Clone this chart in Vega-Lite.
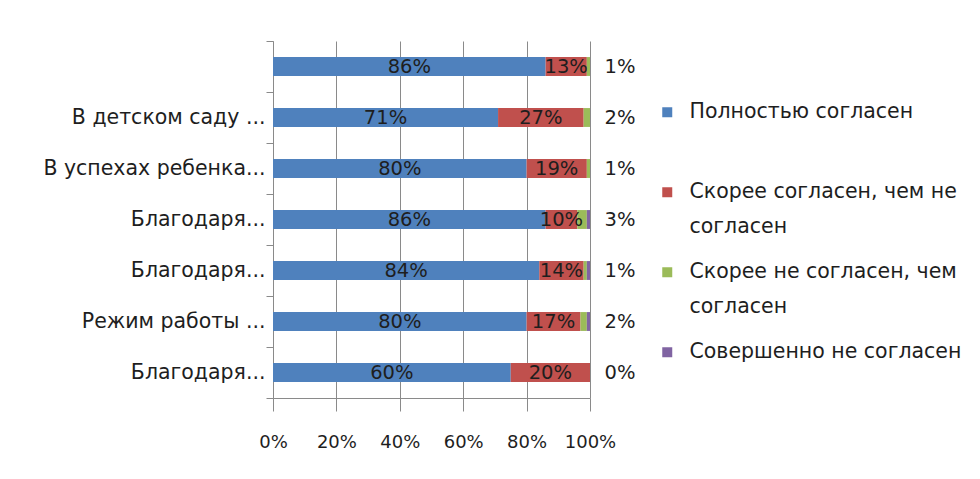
{
  "$schema": "https://vega.github.io/schema/vega-lite/v6.json",
  "width": 317,
  "height": 357,
  "autosize": "none",
  "padding": {"left": 273, "top": 41, "right": 390, "bottom": 81},
  "background": "white",
  "config": {
    "view": {"stroke": null},
    "font": "DejaVu Sans",
    "style": {"guide-label": {"lineHeight": 35}}
  },
  "data": {
    "values": [
      {"cat": "c1", "series": "Полностью согласен", "k": 1, "value": 0.86, "side": "in"},
      {"cat": "c1", "series": "Скорее согласен, чем не согласен", "k": 2, "value": 0.13, "side": "in"},
      {"cat": "c1", "series": "Скорее не согласен, чем согласен", "k": 3, "value": 0.01, "side": "out"},
      {"cat": "c1", "series": "Совершенно не согласен", "k": 4, "value": 0.0, "side": "none"},
      {"cat": "c2", "series": "Полностью согласен", "k": 1, "value": 0.71, "side": "in"},
      {"cat": "c2", "series": "Скорее согласен, чем не согласен", "k": 2, "value": 0.27, "side": "in"},
      {"cat": "c2", "series": "Скорее не согласен, чем согласен", "k": 3, "value": 0.02, "side": "out"},
      {"cat": "c2", "series": "Совершенно не согласен", "k": 4, "value": 0.0, "side": "none"},
      {"cat": "c3", "series": "Полностью согласен", "k": 1, "value": 0.80, "side": "in"},
      {"cat": "c3", "series": "Скорее согласен, чем не согласен", "k": 2, "value": 0.19, "side": "in"},
      {"cat": "c3", "series": "Скорее не согласен, чем согласен", "k": 3, "value": 0.01, "side": "out"},
      {"cat": "c3", "series": "Совершенно не согласен", "k": 4, "value": 0.0, "side": "none"},
      {"cat": "c4", "series": "Полностью согласен", "k": 1, "value": 0.86, "side": "in"},
      {"cat": "c4", "series": "Скорее согласен, чем не согласен", "k": 2, "value": 0.10, "side": "in"},
      {"cat": "c4", "series": "Скорее не согласен, чем согласен", "k": 3, "value": 0.03, "side": "out"},
      {"cat": "c4", "series": "Совершенно не согласен", "k": 4, "value": 0.01, "side": "none"},
      {"cat": "c5", "series": "Полностью согласен", "k": 1, "value": 0.84, "side": "in"},
      {"cat": "c5", "series": "Скорее согласен, чем не согласен", "k": 2, "value": 0.14, "side": "in"},
      {"cat": "c5", "series": "Скорее не согласен, чем согласен", "k": 3, "value": 0.01, "side": "out"},
      {"cat": "c5", "series": "Совершенно не согласен", "k": 4, "value": 0.01, "side": "none"},
      {"cat": "c6", "series": "Полностью согласен", "k": 1, "value": 0.80, "side": "in"},
      {"cat": "c6", "series": "Скорее согласен, чем не согласен", "k": 2, "value": 0.17, "side": "in"},
      {"cat": "c6", "series": "Скорее не согласен, чем согласен", "k": 3, "value": 0.02, "side": "out"},
      {"cat": "c6", "series": "Совершенно не согласен", "k": 4, "value": 0.01, "side": "none"},
      {"cat": "c7", "series": "Полностью согласен", "k": 1, "value": 0.60, "side": "in"},
      {"cat": "c7", "series": "Скорее согласен, чем не согласен", "k": 2, "value": 0.20, "side": "in"},
      {"cat": "c7", "series": "Скорее не согласен, чем согласен", "k": 3, "value": 0.0, "side": "out"},
      {"cat": "c7", "series": "Совершенно не согласен", "k": 4, "value": 0.0, "side": "none"}
    ]
  },
  "encoding": {
    "y": {
      "field": "cat",
      "type": "nominal",
      "sort": ["c1", "c2", "c3", "c4", "c5", "c6", "c7"],
      "scale": {"paddingInner": 0, "paddingOuter": 0},
      "axis": {
        "title": null,
        "tickBand": "extent",
        "domainColor": "#8a8a8a",
        "tickColor": "#8a8a8a",
        "tickSize": 7,
        "labelPadding": 1,
        "labelFontSize": 20.5,
        "labelColor": "#1e1e1e",
        "labelLimit": 270,
        "labelExpr": "datum.value == 'c2' ? 'В детском саду ...' : datum.value == 'c3' ? 'В успехах ребенка...' : datum.value == 'c6' ? 'Режим работы ...' : (datum.value == 'c4' || datum.value == 'c5' || datum.value == 'c7') ? 'Благодаря...' : ''"
      }
    }
  },
  "layer": [
    {
      "mark": {"type": "bar", "height": {"band": 0.37}},
      "encoding": {
        "x": {
          "field": "value",
          "type": "quantitative",
          "stack": "normalize",
          "scale": {"domain": [0, 1]},
          "axis": {
            "title": null,
            "values": [0, 0.2, 0.4, 0.6, 0.8, 1],
            "format": ".0%",
            "grid": true,
            "gridColor": "#8a8a8a",
            "domainColor": "#8a8a8a",
            "tickColor": "#8a8a8a",
            "tickSize": 13,
            "labelPadding": 22,
            "labelFontSize": 18,
            "labelColor": "#1e1e1e",
            "labelOverlap": false,
            "labelFlush": false,
            "labelBound": false,
            "labelAlign": "center"
          }
        },
        "color": {
          "field": "series",
          "type": "nominal",
          "sort": ["Полностью согласен", "Скорее согласен, чем не согласен", "Скорее не согласен, чем согласен", "Совершенно не согласен"],
          "scale": {
            "domain": ["Полностью согласен", "Скорее согласен, чем не согласен", "Скорее не согласен, чем согласен", "Совершенно не согласен"],
            "range": ["#4F81BD", "#C0504D", "#9BBB59", "#8064A2"]
          },
          "legend": {
            "title": null,
            "orient": "none",
            "legendX": 384,
            "legendY": 61,
            "symbolType": "square",
            "symbolSize": 100,
            "symbolStrokeWidth": 0,
            "labelFontSize": 20.5,
            "labelColor": "#1e1e1e",
            "labelOffset": 12,
            "labelLimit": 340,
            "rowPadding": 24,
            "labelExpr": "datum.label == 'Скорее согласен, чем не согласен' ? ['Скорее согласен, чем не', 'согласен'] : datum.label == 'Скорее не согласен, чем согласен' ? ['Скорее не согласен, чем', 'согласен'] : datum.label == 'Полностью согласен' ? ['Полностью согласен', ''] : datum.label"
          }
        },
        "order": {"field": "k", "type": "quantitative"}
      }
    },
    {
      "mark": {"type": "text", "fontSize": 19.5, "color": "#1e1e1e", "align": "center", "baseline": "middle"},
      "encoding": {
        "x": {"field": "value", "type": "quantitative", "stack": "normalize", "bandPosition": 0.5},
        "detail": {"field": "series"},
        "order": {"field": "k", "type": "quantitative"},
        "text": {
          "condition": {"test": "datum.side == 'in'", "field": "value", "type": "quantitative", "format": ".0%"},
          "value": ""
        }
      }
    },
    {
      "transform": [{"filter": "datum.side == 'out'"}],
      "mark": {"type": "text", "fontSize": 19.5, "color": "#1e1e1e", "align": "center", "baseline": "middle", "dx": 30},
      "encoding": {
        "x": {"datum": 1, "type": "quantitative"},
        "text": {"field": "value", "type": "quantitative", "format": ".0%"}
      }
    }
  ]
}
